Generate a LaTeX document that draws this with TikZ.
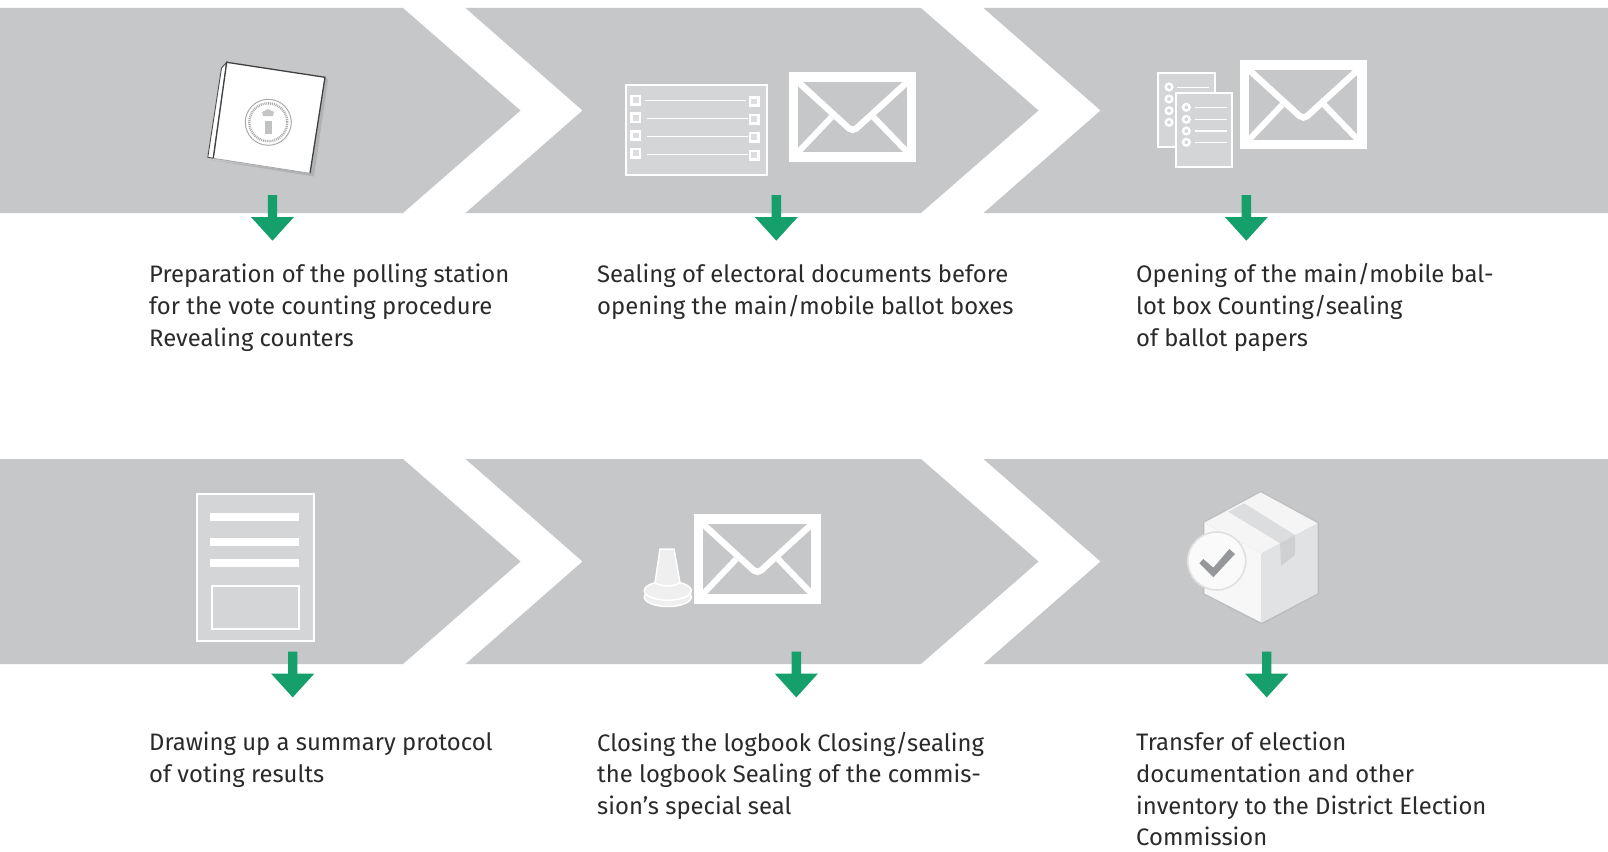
\documentclass[tikz,border=0pt]{standalone}
\usepackage{fontspec}
\setmainfont{Fira Sans}
\definecolor{band}{HTML}{C6C7C9}
\definecolor{pagefill}{HTML}{D4D5D7}
\definecolor{arrowgreen}{HTML}{159F6A}
\definecolor{bodytext}{HTML}{2B2A2B}
\definecolor{sealgray}{HTML}{ABACAF}
\definecolor{boxright}{HTML}{E1E2E3}
\definecolor{tapetop}{HTML}{DCDDDE}
\definecolor{tapeside}{HTML}{CFD0D2}
\definecolor{badge}{HTML}{FAFAFA}
\definecolor{checkgray}{HTML}{96979A}
\definecolor{stampfill}{HTML}{EFEFEF}
\tikzset{
  chevron/.style={fill=band,draw=none},
  caption/.style={anchor=north west,inner sep=0pt,align=left,text=bodytext,font=\fontsize{23.85}{31.85}\selectfont},
  wline/.style={draw=white,line width=2pt},
  envelopeicon/.pic={
    \fill[white] (0,0) rectangle (127.3,89.4);
    \fill[band] (9.3,9.7) rectangle (117.7,79.7);
    \draw[white,line width=6.4pt,rounded corners=5pt] (9.5,10) -- (63.7,59.5) -- (118,10);
    \draw[white,line width=6pt] (9.5,79.5) -- (42.5,44.8);
    \draw[white,line width=6pt] (118,79.5) -- (84.5,44.8);
  },
  downarrow/.pic={
    \fill[arrowgreen] (-4.7,0) -- (4.7,0) -- (4.7,22) -- (21.5,22) -- (0,45.7) -- (-21.5,22) -- (-4.7,22) -- cycle;
  },
}
\begin{document}
\begin{tikzpicture}[x=1pt,y=-1pt]
\useasboundingbox (0,0) rectangle (1608,851);
\fill[white] (0,0) rectangle (1608,851);
% bands
\foreach \yy in {8,459}{
  \fill[chevron] (0,\yy) -- (403,\yy) -- (520.5,\yy+102.5) -- (403,\yy+205) -- (0,\yy+205) -- cycle;
  \fill[chevron] (465.5,\yy) -- (921,\yy) -- (1038.5,\yy+102.5) -- (921,\yy+205) -- (465.5,\yy+205) -- (582.5,\yy+102.5) -- cycle;
  \fill[chevron] (983.5,\yy) -- (1608,\yy) -- (1608,\yy+205) -- (983.5,\yy+205) -- (1100.5,\yy+102.5) -- cycle;
}
% icon 1: sealed booklet
\fill[black!45,opacity=.35] (211,160) -- (314,176.5) -- (328,80) -- (325,77) -- (310,173) -- cycle;
\fill[white,draw=black!70,line width=.9pt] (221.5,68) -- (226.7,62.3) -- (213.3,158.3) -- (207.8,157.3) -- cycle;
\fill[white] (226.7,62.3) -- (325,77.3) -- (310,173.3) -- (213.3,158.3) -- cycle;
\draw[black!75,line width=1.3pt] (213.3,158.3) -- (226.7,62.3) -- (325,77.3) -- (310,173.3);
\draw[black!35,line width=.8pt] (213.3,158.3) -- (310,173.3);
\draw[sealgray,line width=1pt] (268.3,122.3) circle (23);
\draw[sealgray,line width=2.4pt,dash pattern=on 1pt off .9pt] (268.3,122.3) circle (19);
\fill[sealgray!75!white] (265,121) rectangle (272,134);
\fill[sealgray!70!white] (262,112) -- (268,109) -- (274,112) -- (273,116) -- (263,116) -- cycle;
% icon 2: form and envelope
\fill[pagefill,draw=white,line width=2pt] (625.7,85) rectangle (767.3,175.3);
\foreach \ya/\yb in {100/101.3,117.7/119,135.3/137,153/155}{
  \fill[band!60!white,draw=white,line width=2.6pt] (631.7,\ya-4) rectangle +(8.4,8.4);
  \fill[band!60!white,draw=white,line width=2.6pt] (750,\yb-4) rectangle +(8.4,8.4);
}
\draw[wline,line width=1.4pt] (645,100.7) -- (745.7,100.7);
\foreach \yy in {118.7,136.7,154.3}{\draw[wline,line width=1.4pt] (647,\yy) -- (747.7,\yy);}
\pic at (789,72.3) {envelopeicon};
% icon 3: papers and envelope
\fill[pagefill,draw=white,line width=2pt] (1158.3,73.3) rectangle (1214.7,147.3);
\foreach \yy in {87,99,110.7,122.3}{\draw[white,line width=2.4pt] (1169,\yy) circle (3.3);}
\draw[wline,line width=1.3pt] (1177.3,87.5) -- (1209.3,87.5);
\fill[pagefill,draw=white,line width=2pt] (1175.7,93.3) rectangle (1232,167);
\foreach \yy in {107.3,119.3,131,142.3}{
  \draw[white,line width=2.4pt] (1186.3,\yy) circle (3.3);
  \draw[wline,line width=1.3pt] (1195,\yy) -- (1226.7,\yy);
}
\pic at (1239.7,60) {envelopeicon};
% icon 4: protocol
\fill[pagefill,draw=white,line width=2pt] (196.7,494) rectangle (314,641.3);
\fill[white] (210.3,513.3) rectangle (299.3,520.7);
\fill[white] (210.3,538.3) rectangle (299.3,545.7);
\fill[white] (209.5,559.3) rectangle (298.5,566.7);
\draw[wline] (212,585.7) rectangle (299.3,629);
% icon 5: stamp and envelope
\fill[stampfill,draw=white,line width=1.5pt] (667.8,597) ellipse (23.5 and 9.5);
\fill[stampfill,draw=white,line width=1.5pt] (667.8,590.7) ellipse (23.5 and 9.5);
\fill[stampfill,draw=white,line width=1.5pt] (660,549) -- (674,549) -- (680,583) .. controls (672,587) and (663,587) .. (655,583) -- cycle;
\pic at (693.7,514.3) {envelopeicon};
% icon 6: parcel with check mark
\begin{scope}[line join=round]
\fill[black!30,opacity=.5] (1203,522) -- (1260.7,491) -- (1319,522.5) -- (1319,594) -- (1261.7,624.5) -- (1203,594) -- cycle;
\fill[white!96!black] (1260.7,492.3) -- (1317.7,523.3) -- (1261.7,553.3) -- (1204.3,522.7) -- cycle;
\fill[white!97!black] (1204.3,522.7) -- (1261.7,553.3) -- (1261.7,622.7) -- (1204.3,593.3) -- cycle;
\fill[boxright] (1317.7,523.3) -- (1261.7,553.3) -- (1261.7,622.7) -- (1317.7,593.3) -- cycle;
\fill[tapetop] (1228.3,511.7) -- (1244,503.3) -- (1295,535) -- (1280,543.3) -- cycle;
\fill[tapeside] (1280,543.3) -- (1295,535) -- (1295,555) -- (1281,566) -- cycle;
\fill[badge,draw=black!12,line width=1.6pt] (1216.7,561) circle (29);
\fill[checkgray] (1199.3,563.3) -- (1213.3,577.3) -- (1235,554) -- (1229.3,549) -- (1213.3,567.7) -- (1203.3,559) -- cycle;
\end{scope}
% arrows
\pic at (272.5,195) {downarrow};
\pic at (776.3,195) {downarrow};
\pic at (1246.3,195) {downarrow};
\pic at (292.7,651.7) {downarrow};
\pic at (796.3,651.7) {downarrow};
\pic at (1266.7,651.7) {downarrow};
% captions
\node[caption] (t1) at (149,263.5) {Preparation of the polling station\\for the vote counting procedure\\Revealing counters};
\node[caption] (t2) at (597,263.5) {Sealing of electoral documents before\\opening the main/mobile ballot boxes};
\node[caption] (t3) at (1136,263) {Opening of the main/mobile bal-\\lot box Counting/sealing\\of ballot papers};
\node[caption] (t4) at (149,731.6) {Drawing up a summary protocol\\of voting results};
\node[caption] (t5) at (597,731.6) {Closing the logbook Closing/sealing\\the logbook Sealing of the commis-\\sion’s special seal};
\node[caption] (t6) at (1136,731.6) {Transfer of election\\documentation and other\\inventory to the District Election\\Commission};
\end{tikzpicture}
\end{document}
